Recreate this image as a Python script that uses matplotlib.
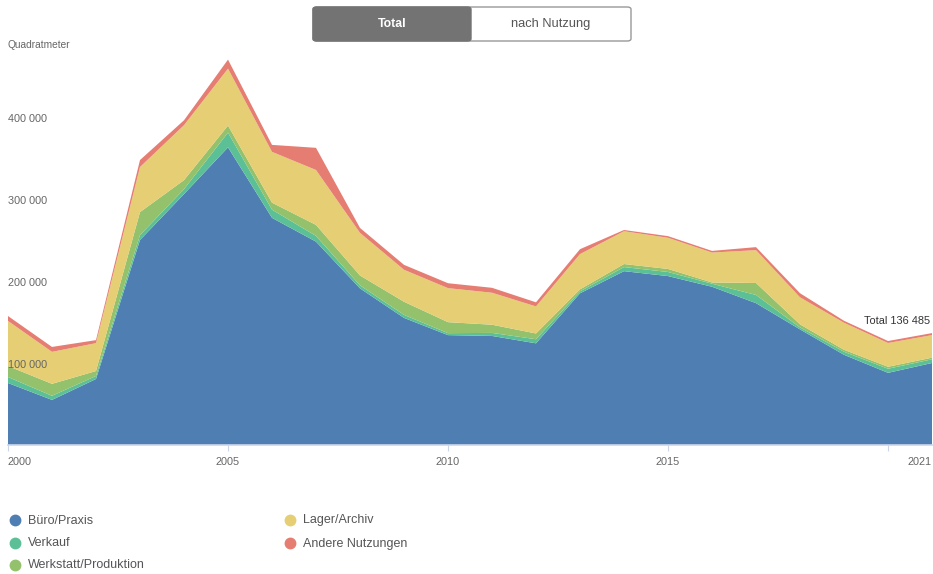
import matplotlib
matplotlib.use("Agg")
import matplotlib.pyplot as plt
from matplotlib.patches import FancyBboxPatch
from matplotlib.lines import Line2D
import matplotlib.transforms as mtransforms

plt.rcParams['font.family'] = ['Liberation Sans', 'DejaVu Sans']

years = list(range(2000, 2022))
buero = [75600, 55000, 80500, 250000, 306000, 363000, 277000, 248000, 191000, 155000, 134000,
         133000, 124000, 185000, 212000, 206000, 193000, 173000, 141000, 110000, 88000, 100000]
verkauf = [7300, 5000, 3700, 6000, 6000, 18000, 10000, 7000, 3700, 3700, 2400,
           3700, 5000, 2400, 5000, 5000, 3700, 10000, 2400, 3700, 5000, 4500]
werkstatt = [13400, 14600, 6000, 28000, 11000, 8500, 8500, 13400, 12000, 16000, 13400,
             10000, 7000, 2400, 3700, 3700, 1500, 14600, 3700, 2400, 2400, 2000]
lager = [55000, 39000, 34000, 55000, 67000, 69500, 62000, 67000, 52000, 39000, 41500,
         39000, 33000, 43000, 40000, 38000, 36500, 40000, 33000, 33000, 29000, 27500]
andere = [6000, 6000, 3700, 8500, 6000, 11000, 8500, 27000, 6000, 6000, 6000,
          6000, 5000, 6000, 1500, 2000, 2000, 3700, 5000, 2400, 2400, 2485]

series_names = ["Büro/Praxis", "Verkauf", "Werkstatt/Produktion", "Lager/Archiv", "Andere Nutzungen"]
colors = ["#4f7fb2", "#5cc097", "#94c16b", "#e5ce74", "#e67d72"]

ytick_vals = [100000, 200000, 300000, 400000]
ytick_labels = ["100 000", "200 000", "300 000", "400 000"]
xtick_vals = [2000, 2005, 2010, 2015, 2020]
xlabel_vals = [2000, 2005, 2010, 2015, 2021]
xlabel_texts = ["2000", "2005", "2010", "2015", "2021"]
total_label = "Total 136 485"

W, H = 933, 574
fig = plt.figure(figsize=(W / 100, H / 100), dpi=100)

ax_left, ax_right = 8, 932
ax_bottom, ax_top = 445, 50
ax = fig.add_axes([ax_left / W, 1 - ax_bottom / H, (ax_right - ax_left) / W, (ax_bottom - ax_top) / H])

ax.stackplot(years, buero, verkauf, werkstatt, lager, andere, colors=colors, linewidth=0)
totals = [a + b + c + d + e for a, b, c, d, e in zip(buero, verkauf, werkstatt, lager, andere)]
ax.set_xlim(2000, 2021)
ax.set_ylim(0, (ax_bottom - ax_top) / 0.00082)
for s in ax.spines.values():
    s.set_visible(False)
ax.set_yticks([])
ax.set_xticks(xtick_vals)
ax.set_xticklabels([])
ax.tick_params(axis='x', length=4, width=0.8, color="#ccd6eb", direction='out')

ax.axhline(0, color="#ccd6eb", lw=1.2, clip_on=False, zorder=5)

xl_tr = mtransforms.blended_transform_factory(ax.transData, ax.transAxes)
for v, t in zip(xlabel_vals, xlabel_texts):
    ha = 'left' if v == 2000 else ('right' if v == 2021 else 'center')
    ax.text(v, -0.043, t, transform=xl_tr,
            ha=ha, va='center', fontsize=7.8, color="#666666", clip_on=False)

yl_tr = mtransforms.blended_transform_factory(ax.transAxes, ax.transData) + \
    mtransforms.ScaledTranslation(0, -2.5 / 100, fig.dpi_scale_trans)
for v, t in zip(ytick_vals, ytick_labels):
    ax.text(0.0, v, t, transform=yl_tr,
            ha='left', va='center', fontsize=7.8, color="#666666", zorder=10)

ax.annotate(total_label, xy=(years[-1], totals[-1]), xytext=(-1.5, 9), textcoords='offset points',
            ha='right', va='center', fontsize=7.9, color="#333333", zorder=10)

fig.text(8 / W, 1 - 45 / H, "Quadratmeter", ha='left', va='center', fontsize=7.3, color="#666666")

bx0, bx1, bx2 = 313, 471, 631
by0, by1 = 7, 41
btn_r = FancyBboxPatch((bx0 / W, 1 - by1 / H), (bx2 - bx0) / W, (by1 - by0) / H,
                       boxstyle="round,pad=0,rounding_size=0.004", transform=fig.transFigure,
                       facecolor="white", edgecolor="#999999", lw=1.0)
fig.patches.append(btn_r)
btn_l = FancyBboxPatch((bx0 / W, 1 - by1 / H), (bx1 - bx0) / W, (by1 - by0) / H,
                       boxstyle="round,pad=0,rounding_size=0.004", transform=fig.transFigure,
                       facecolor="#737373", edgecolor="#737373", lw=1.0)
fig.patches.append(btn_l)
fig.text((bx0 + bx1) / 2 / W, 1 - 24 / H, "Total", ha='center', va='center', fontsize=8.8,
         color="white", fontweight='bold')
fig.text((bx1 + bx2) / 2 / W, 1 - 24 / H, "nach Nutzung", ha='center', va='center', fontsize=9.3,
         color="#555555")

leg_pos = [(15, 520), (15, 543), (15, 565), (290, 520), (290, 543)]
for (x, y), name, c in zip(leg_pos, series_names, colors):
    fig.add_artist(Line2D([x / W], [1 - y / H], marker='o', markersize=7.5, color=c,
                          transform=fig.transFigure, linestyle='none'))
    fig.text((x + 13) / W, 1 - (y + 0.5) / H, name, ha='left', va='center', fontsize=9, color="#555555")

fig.savefig("out.png", dpi=100)
